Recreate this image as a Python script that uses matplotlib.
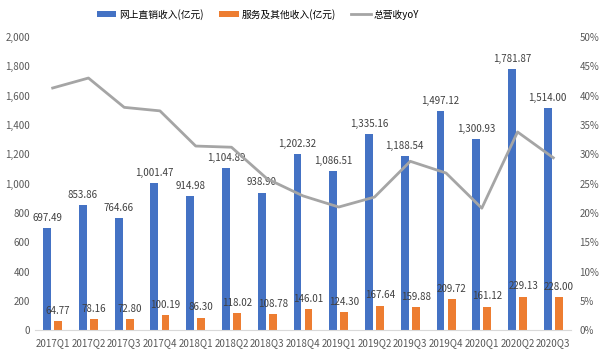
import numpy as np
import matplotlib
matplotlib.use("Agg")
import matplotlib.pyplot as plt

plt.rcParams['font.family'] = ['Noto Sans CJK SC', 'DejaVu Sans']

quarters = ['2017Q1', '2017Q2', '2017Q3', '2017Q4', '2018Q1', '2018Q2', '2018Q3', '2018Q4',
            '2019Q1', '2019Q2', '2019Q3', '2019Q4', '2020Q1', '2020Q2', '2020Q3']
online = [697.49, 853.86, 764.66, 1001.47, 914.98, 1104.89, 938.90, 1202.32,
          1086.51, 1335.16, 1188.54, 1497.12, 1300.93, 1781.87, 1514.00]
service = [64.77, 78.16, 72.80, 100.19, 86.30, 118.02, 108.78, 146.01,
           124.30, 167.64, 159.88, 209.72, 161.12, 229.13, 228.00]
yoy = [41.3, 43.0, 38.0, 37.4, 31.4, 31.2, 25.8, 22.9,
       21.0, 22.7, 28.8, 26.8, 20.8, 33.8, 29.4]

blue = '#4472C4'
orange = '#ED7D31'
grey = '#A5A5A5'
txt = '#404040'

fig = plt.figure(figsize=(6, 3.49), dpi=100)
ax = fig.add_axes([0.058, 0.054, 0.894, 0.84])
x = np.arange(len(quarters))
w = 0.22
b1 = ax.bar(x - 0.155, online, w, color=blue, label='网上直销收入(亿元)')
b2 = ax.bar(x + 0.155, service, w, color=orange, label='服务及其他收入(亿元)')

for xi, v in zip(x, online):
    ax.text(xi - 0.155, v + 35, f'{v:,.2f}', ha='center', va='bottom', fontsize=7, color=txt)
for xi, v in zip(x, service):
    ax.text(xi + 0.155, v + 35, f'{v:,.2f}', ha='center', va='bottom', fontsize=7, color=txt)

ax.set_ylim(0, 2000)
ax.set_xlim(-0.5, len(quarters) - 0.5)
ax.set_yticks(range(0, 2001, 200))
ax.set_yticklabels([f'{v:,}' for v in range(0, 2001, 200)])
ax.set_xticks(x)
ax.set_xticklabels(quarters)
for s in ['top', 'right', 'left']:
    ax.spines[s].set_visible(False)
ax.spines['bottom'].set_color('#D9D9D9')
ax.tick_params(length=0, labelsize=7, labelcolor='#595959')
ax.tick_params(axis='x', pad=6)

ax2 = ax.twinx()
ln, = ax2.plot(x, yoy, color=grey, linewidth=2, label='总营收yoY')
ax2.set_ylim(0, 50)
ax2.set_yticks(range(0, 51, 5))
ax2.set_yticklabels([f'{v}%' for v in range(0, 51, 5)])
for s in ax2.spines.values():
    s.set_visible(False)
ax2.tick_params(length=0, labelsize=7, labelcolor='#595959', pad=6)

fig.legend(handles=[b1, b2, ln], loc='upper center', bbox_to_anchor=(0.43, 1.0), ncol=3,
           frameon=False, fontsize=7, handlelength=2.0, handleheight=0.55,
           columnspacing=1.6, handletextpad=0.3)

fig.savefig('out.png', dpi=100)
